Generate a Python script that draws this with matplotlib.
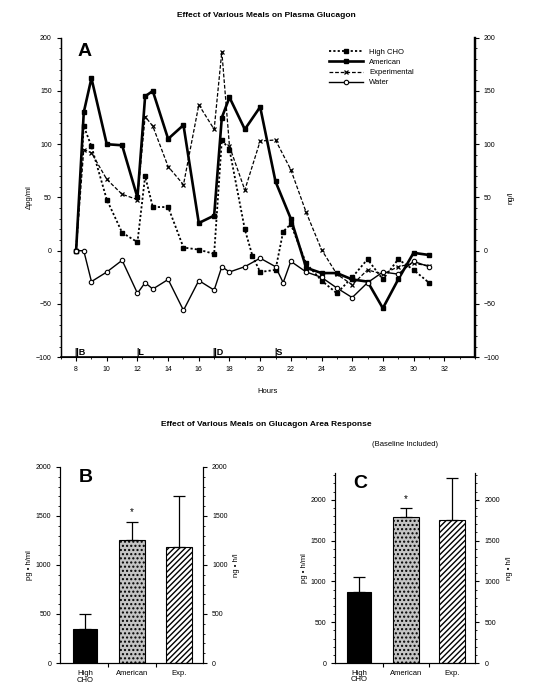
import matplotlib
matplotlib.use("Agg")
import matplotlib.pyplot as plt
from matplotlib.ticker import MultipleLocator, FixedLocator, NullFormatter

plt.rcParams['font.family'] = ['Liberation Sans', 'DejaVu Sans']

# ---------------- data: panel A ----------------
hcho_t = [8, 8.5, 9, 10, 11, 12, 12.5, 13, 14, 15, 16, 17, 17.5, 18, 19, 19.5, 20, 21, 21.5, 22, 23, 24, 25, 26, 27, 28, 29, 30, 31]
hcho_v = [0, 117, 98, 48, 17, 8, 70, 41, 41, 3, 1, -3, 104, 95, 20, -5, -20, -18, 18, 25, -12, -28, -40, -25, -8, -27, -8, -18, -30]

amer_t = [8, 8.5, 9, 10, 11, 12, 12.5, 13, 14, 15, 16, 17, 17.5, 18, 19, 20, 21, 22, 23, 24, 25, 26, 27, 28, 29, 30, 31]
amer_v = [0, 130, 162, 100, 99, 50, 145, 150, 105, 118, 26, 33, 125, 144, 114, 135, 65, 30, -16, -21, -21, -27, -29, -54, -27, -2, -4]

exp_t = [8, 8.5, 9, 10, 11, 12, 12.5, 13, 14, 15, 16, 17, 17.5, 18, 19, 20, 21, 22, 23, 24, 25, 26, 27, 28, 29, 30, 31]
exp_v = [0, 95, 92, 67, 53, 48, 126, 117, 79, 62, 137, 114, 187, 98, 57, 103, 104, 76, 36, 1, -22, -32, -18, -22, -15, -12, -14]

water_t = [8, 8.5, 9, 10, 11, 12, 12.5, 13, 14, 15, 16, 17, 17.5, 18, 19, 20, 21, 21.5, 22, 23, 24, 25, 26, 27, 28, 29, 30, 31]
water_v = [0, 0, -29, -20, -9, -40, -30, -36, -27, -56, -28, -37, -15, -20, -15, -7, -15, -30, -10, -20, -25, -35, -44, -30, -20, -22, -10, -15]

hour_ticks = [8, 10, 12, 14, 16, 18, 20, 22, 24, 26, 28, 30, 32]
meal_times = [8, 12, 17, 21]
meal_labels = ["||B", "|L", "||D", "|S"]

# ---------------- data: panels B and C ----------------
bar_cats = ["High\nCHO", "American", "Exp."]
area_b = [347, 1255, 1184]
area_b_err = [153, 184, 520]
area_c = [871, 1791, 1755]
area_c_err = [184, 111, 515]

fig = plt.figure(figsize=(5.33, 6.99), dpi=100)

fs_tick = 5
fs_lab = 5.5

# ---------------- Panel A ----------------
axA = fig.add_axes([0.114, 0.489, 0.777, 0.457])
axA.plot(hcho_t, hcho_v, linestyle=(0, (1.2, 1.2)), color='black', lw=1.3,
         marker='s', ms=2.8, mfc='black', label='High CHO')
axA.plot(amer_t, amer_v, linestyle='-', color='black', lw=1.9,
         marker='s', ms=3.2, mfc='black', label='American')
axA.plot(exp_t, exp_v, linestyle=(0, (3, 1.5)), color='black', lw=0.9,
         marker='x', ms=3.5, mew=0.9, label='Experimental')
axA.plot(water_t, water_v, linestyle='-', color='black', lw=1.0,
         marker='o', ms=3.2, mfc='white', mew=0.8, label='Water')

axA.set_xlim(7, 34)
axA.set_ylim(-100, 200)
axA.xaxis.set_major_locator(FixedLocator(hour_ticks))
axA.xaxis.set_minor_locator(MultipleLocator(1))
axA.yaxis.set_major_locator(MultipleLocator(50))
axA.yaxis.set_minor_locator(MultipleLocator(10))
axA.spines['top'].set_visible(False)
axA.spines['right'].set_linewidth(1.6)
axA.spines['left'].set_linewidth(1.0)
axA.spines['bottom'].set_linewidth(1.2)
axA.tick_params(axis='both', labelsize=fs_tick, length=3, width=0.8, direction='out')
axA.tick_params(which='minor', length=1.5, width=0.6)
axA.set_ylabel("\u0394pg/ml", fontsize=fs_lab, labelpad=2)
axA.set_xlabel("Hours", fontsize=fs_lab, labelpad=11)

axA2 = axA.twinx()
axA2.set_ylim(-100, 200)
axA2.yaxis.set_major_locator(MultipleLocator(50))
axA2.yaxis.set_minor_locator(MultipleLocator(10))
axA2.tick_params(axis='y', labelsize=fs_tick, length=3, width=0.8)
axA2.tick_params(which='minor', length=1.5, width=0.6)
axA2.spines['top'].set_visible(False)
axA2.spines['right'].set_linewidth(1.6)
axA2.set_ylabel("ng/l", fontsize=fs_lab, rotation=90, labelpad=6)

for t, lab in zip(meal_times, meal_labels):
    axA.text(t - 0.1, -100, lab, fontsize=6.5, fontweight='bold', ha='left', va='bottom')

axA.legend(loc='upper left', bbox_to_anchor=(0.64, 0.975), frameon=False,
           fontsize=5.5, handlelength=4.5, labelspacing=0.35, borderaxespad=0)
axA.text(0.04, 0.985, "A", transform=axA.transAxes, fontsize=14, fontweight='bold',
         ha='left', va='top')

fig.text(0.5, 0.978, "Effect of Various Meals on Plasma Glucagon", ha='center', va='center',
         fontsize=6, fontweight='bold')
fig.text(0.5, 0.393, "Effect of Various Meals on Glucagon Area Response", ha='center', va='center',
         fontsize=6, fontweight='bold')

# ---------------- bar panel helper ----------------
def bar_panel(rect, vals, errs, ymax, major, letter, star_y, sub=None):
    ax = fig.add_axes(rect)
    x = list(range(len(vals)))
    ax.bar(x[0], vals[0], width=0.52, color='black', edgecolor='black', lw=0.8)
    ax.bar(x[1], vals[1], width=0.55, color='#c4c4c4', edgecolor='black', lw=0.8, hatch='....')
    ax.bar(x[2], vals[2], width=0.55, color='white', edgecolor='black', lw=0.8, hatch='//////')
    ax.errorbar(x, vals, yerr=[[0] * len(errs), errs], fmt='none', ecolor='black',
                elinewidth=0.9, capsize=4, capthick=0.9)
    ax.set_ylim(0, ymax)
    ax.set_xlim(-0.52, 2.5)
    ax.yaxis.set_major_locator(MultipleLocator(major))
    ax.yaxis.set_minor_locator(MultipleLocator(100))
    ax.xaxis.set_major_locator(FixedLocator([0.5, 1.5]))
    ax.xaxis.set_major_formatter(NullFormatter())
    ax.tick_params(axis='both', labelsize=fs_tick, length=3, width=0.8)
    ax.tick_params(which='minor', length=1.5, width=0.6)
    ax.spines['top'].set_visible(False)
    for i, c in enumerate(bar_cats):
        ax.text(i, -ymax * 0.035, c, ha='center', va='top', fontsize=5.5, linespacing=0.95)
    ax.set_ylabel("pg \u2022 h/ml", fontsize=fs_lab, labelpad=2)
    ax.text(1, star_y, "*", ha='center', va='center', fontsize=7)
    ax.text(0.13, 0.99, letter, transform=ax.transAxes, fontsize=14, fontweight='bold',
            ha='left', va='top')
    ax2 = ax.twinx()
    ax2.set_ylim(0, ymax)
    ax2.yaxis.set_major_locator(MultipleLocator(major))
    ax2.yaxis.set_minor_locator(MultipleLocator(100))
    ax2.tick_params(axis='y', labelsize=fs_tick, length=3, width=0.8)
    ax2.tick_params(which='minor', length=1.5, width=0.6)
    ax2.spines['top'].set_visible(False)
    ax2.set_ylabel("ng \u2022 h/l", fontsize=fs_lab, rotation=90, labelpad=4)
    if sub:
        ax.text(0.5, 1.13, sub, transform=ax.transAxes, ha='center', va='bottom', fontsize=5.5)
    return ax

bar_panel([0.113, 0.0515, 0.268, 0.2805], area_b, area_b_err, 2000, 500, "B", 1540)
bar_panel([0.629, 0.0515, 0.263, 0.272], area_c, area_c_err, 2330, 500, "C", 2010,
          sub="(Baseline Included)")

fig.savefig("out.png", dpi=100)
